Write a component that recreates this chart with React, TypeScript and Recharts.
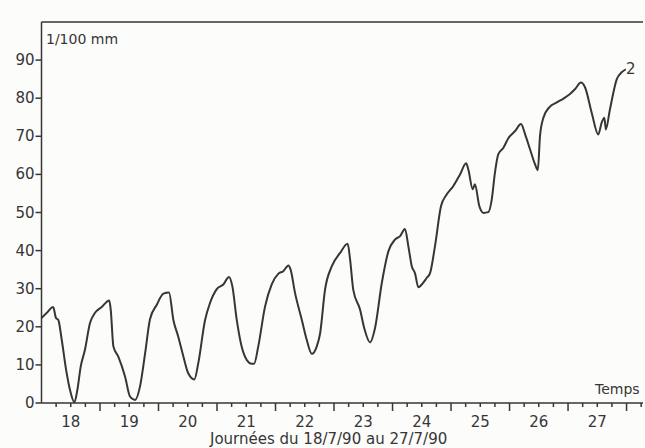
import { LineChart, Line, XAxis, YAxis, ReferenceLine } from "recharts";

// heures écoulées depuis le 18/7 à 0h
const hours = [
  0, 2.1, 4.8, 5.9, 6.9, 8.3, 10.1, 11.7, 13.5, 14.7, 16.1, 17.8, 19.9, 21.9,
  24.7, 27.8, 28.4, 29.5, 31.5, 34.3, 36.3, 38.4, 40.4, 42.5, 44.5, 47.3, 50,
  52.3, 54.1, 56.1, 58.2, 60.2, 62.7, 64.3, 67.1, 69.1, 71.9, 74.6, 76.9, 78.3,
  80.1, 82.1, 84.2, 86.2, 87.2, 88.9, 91.7, 94.4, 97.1, 99.2, 101.3, 102.2, 104,
  106.8, 108.8, 110.9, 112.9, 114.3, 116.3, 119.1, 122.5, 125.6, 126.6, 127.9,
  130.7, 132.4, 134.8, 136.8, 139.6, 142.3, 145, 147.1, 149.1, 150.5, 151.9,
  153.2, 154.6, 156, 158, 159.4, 161.4, 163.9, 166.2, 168.9, 171.7, 174.2,
  175.1, 176.9, 177.8, 179.6, 181.3, 183.3, 184.7, 186, 187.4, 189.5, 191.5,
  194.3, 196.7, 198.4, 200.4, 202.5, 203.6, 204.5, 205.9, 208.3, 211.4, 214.1,
  216.8, 218.9, 221.3, 223, 225.7, 228.4, 229.8, 230.9, 231.5, 233.2, 236, 238,
  239.7,
];

// déplacement en 1/100 mm
const deplacement = [
  22.3, 23.6, 25.2, 22.4, 21.8, 16.6, 8.7, 3.4, 0.2, 3.4, 9.6, 13.9, 21, 23.6,
  25.2, 26.9, 24.5, 14.8, 12.2, 6.9, 1.7, 0.8, 4.3, 13, 22, 25.8, 28.7, 29,
  21.8, 17.4, 12.2, 7.8, 6.2, 10.4, 21.8, 26.2, 29.9, 31.1, 33.1, 30.6, 21.8,
  14.8, 11.3, 10.3, 10.3, 14.8, 25.3, 31.1, 33.9, 34.6, 36.1, 35, 28.9, 21.8,
  16.6, 12.9, 14.8, 18.3, 29.7, 35.9, 39.4, 41.8, 37.6, 29.7, 24.5, 19.6, 15.9,
  19.6, 31.5, 39.8, 42.9, 43.8, 45.7, 41.1, 35.9, 34.1, 30.4, 31.1, 32.8, 34.1,
  41.1, 51.7, 54.7, 56.9, 60, 62.9, 61.3, 56.1, 57.4, 51.7, 49.9, 50.1, 53.4,
  60.4, 65.3, 67, 69.5, 71.4, 73.2, 70.5, 66.6, 62.6, 61.1, 70.1, 74.9, 77.6,
  78.9, 79.9, 81.1, 82.4, 84.1, 82.8, 76.2, 70.5, 73.6, 74.9, 71.8, 77.1, 85,
  86.8, 87.6,
];

const days = [18, 19, 20, 21, 22, 23, 24, 25, 26, 27];
const yTicks = [0, 10, 20, 30, 40, 50, 60, 70, 80, 90];

const data = hours.map((h, i) => ({ h, v: deplacement[i] }));

// une graduation toutes les 6 heures, le jour écrit à midi
const xTicks: number[] = [];
for (let t = 6; t <= 246; t += 6) xTicks.push(t);

const INK = "#363636";
const FONT = "'DejaVu Sans', sans-serif";

const XTick = (props: any) => {
  const { x, y, payload } = props;
  const t = payload.value as number;
  const major = t % 24 === 0;
  const label = t % 24 === 12 ? days[(t - 12) / 24] : null;
  return (
    <g>
      <line x1={x} y1={y} x2={x} y2={y + (major ? 8 : 4)} stroke={INK} strokeWidth={1.5} />
      {label !== null && (
        <text x={x} y={y + 24} textAnchor="middle" fontSize={15} fill={INK} fontFamily={FONT}>
          {label}
        </text>
      )}
    </g>
  );
};

const YTickLeft = (props: any) => {
  const { x, y, payload } = props;
  return (
    <g>
      <line x1={x - 6} y1={y} x2={x} y2={y} stroke={INK} strokeWidth={1.5} />
      <text x={x - 7} y={y + 5} textAnchor="end" fontSize={15} fill={INK} fontFamily={FONT}>
        {payload.value}
      </text>
    </g>
  );
};

const YTickRight = (props: any) => {
  const { x, y, payload } = props;
  if (payload.value === 0) return <g />;
  return <line x1={x - 6} y1={y} x2={x} y2={y} stroke={INK} strokeWidth={1.5} />;
};

const textStyle = {
  position: "absolute" as const,
  fontFamily: FONT,
  color: INK,
  whiteSpace: "nowrap" as const,
  lineHeight: 1,
};

export default function App() {
  return (
    <div style={{ position: "absolute", left: 0, top: 0, width: 645, height: 448, background: "#fcfcfb" }}>
      <LineChart width={645} height={448} data={data} margin={{ top: 22, right: 2, left: 0, bottom: 0 }}>
        <XAxis
          dataKey="h"
          type="number"
          domain={[0, 246.75]}
          ticks={xTicks}
          interval={0}
          height={45}
          tickSize={0}
          tickMargin={0}
          tick={XTick}
          axisLine={{ stroke: INK, strokeWidth: 1.5 }}
        />
        <YAxis
          domain={[0, 100]}
          ticks={yTicks}
          interval={0}
          width={41.5}
          tickSize={0}
          tickMargin={0}
          tick={YTickLeft}
          axisLine={{ stroke: INK, strokeWidth: 1.5 }}
        />
        <YAxis
          yAxisId="r"
          orientation="right"
          domain={[0, 100]}
          ticks={yTicks}
          interval={0}
          width={0}
          tickSize={0}
          tickMargin={0}
          tick={YTickRight}
          axisLine={{ stroke: INK, strokeWidth: 1.5 }}
        />
        <ReferenceLine y={100} stroke={INK} strokeWidth={1.5} />
        <Line
          dataKey="v"
          type="monotone"
          dot={false}
          stroke={INK}
          strokeWidth={2}
          isAnimationActive={false}
        />
      </LineChart>
      <div style={{ ...textStyle, left: 46, top: 32, fontSize: 14 }}>1/100 mm</div>
      <div style={{ ...textStyle, left: 626, top: 62, fontSize: 15 }}>2</div>
      <div style={{ ...textStyle, left: 595, top: 382, fontSize: 14 }}>Temps</div>
      <div style={{ ...textStyle, left: 210, top: 432, fontSize: 15 }}>Journées du 18/7/90 au 27/7/90</div>
    </div>
  );
}
